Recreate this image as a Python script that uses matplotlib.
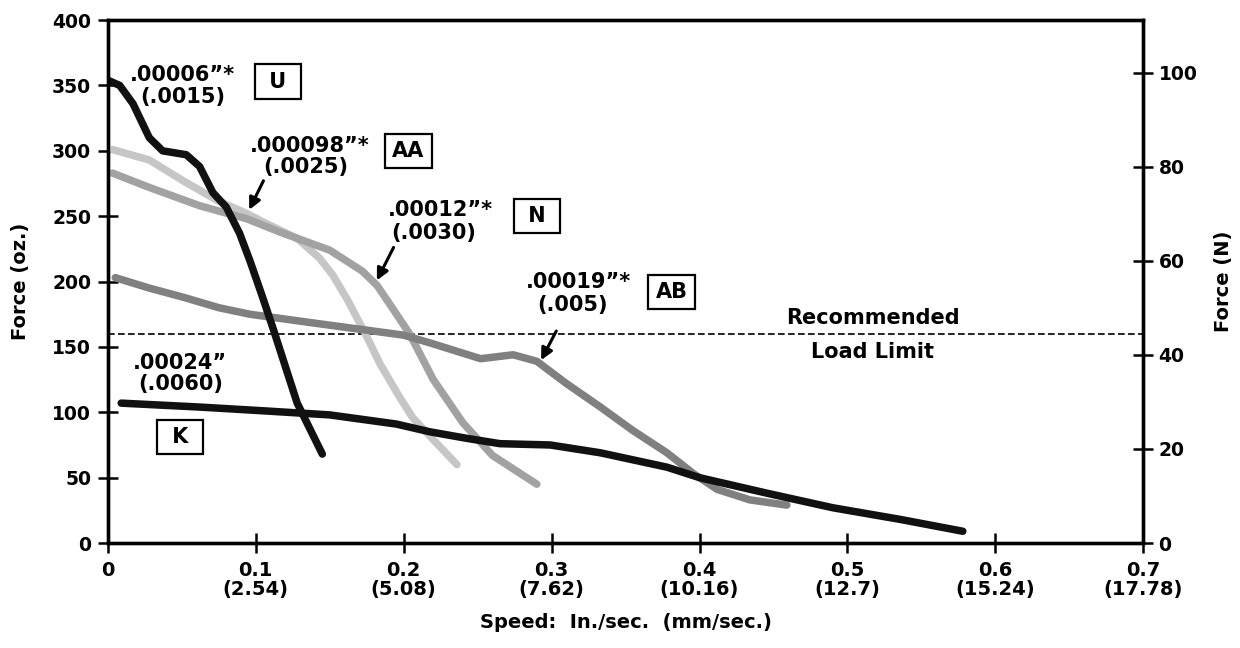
import matplotlib
matplotlib.use("Agg")
import matplotlib.pyplot as plt

# ---------------- data ----------------
u_x = [0.0, 0.008, 0.017, 0.028, 0.037, 0.053, 0.062, 0.071, 0.080, 0.089, 0.096, 0.104, 0.112, 0.128, 0.145]
u_y = [354, 350, 336, 310, 300, 297, 288, 268, 257, 237, 216, 190, 163, 107, 68]

aa_x = [0.003, 0.028, 0.051, 0.074, 0.094, 0.106, 0.128, 0.143, 0.152, 0.162, 0.175, 0.184, 0.197, 0.206, 0.22, 0.236]
aa_y = [301, 293, 277, 262, 252, 245, 233, 218, 205, 186, 158, 137, 112, 96, 79, 60]

n_x = [0.003, 0.028, 0.062, 0.094, 0.116, 0.150, 0.172, 0.182, 0.191, 0.204, 0.22, 0.24, 0.26, 0.29]
n_y = [283, 272, 258, 248, 238, 224, 208, 197, 182, 160, 125, 92, 67, 45]

ab_x = [0.005, 0.028, 0.051, 0.075, 0.096, 0.141, 0.2, 0.218, 0.252, 0.274, 0.29, 0.31, 0.333, 0.355, 0.378, 0.396, 0.412, 0.434, 0.459]
ab_y = [203, 195, 188, 180, 175, 168, 159, 153, 141, 144, 139, 122, 104, 86, 69, 53, 41, 33, 29]

k_x = [0.009, 0.062, 0.107, 0.150, 0.195, 0.218, 0.243, 0.265, 0.299, 0.333, 0.378, 0.4, 0.446, 0.49, 0.536, 0.578]
k_y = [107, 104, 101, 98, 91, 85, 80, 76, 75, 69, 58, 50, 38, 27, 18, 9]

load_limit = 160

x_ticks = [0, 0.1, 0.2, 0.3, 0.4, 0.5, 0.6, 0.7]
x_ticklabels = ["0", "0.1\n(2.54)", "0.2\n(5.08)", "0.3\n(7.62)", "0.4\n(10.16)",
                "0.5\n(12.7)", "0.6\n(15.24)", "0.7\n(17.78)"]
y_ticks = [0, 50, 100, 150, 200, 250, 300, 350, 400]
yr_ticks = [0, 20, 40, 60, 80, 100]
OZ_PER_N = 3.597

# ---------------- figure ----------------
plt.rcParams['font.family'] = ['DejaVu Sans']
plt.rcParams['font.weight'] = 'bold'

fig = plt.figure(figsize=(12.4, 6.48), dpi=100)
ax = fig.add_axes([0.087, 0.162, 0.835, 0.807])

lw = 5.4
common = dict(lw=lw, solid_capstyle='round', solid_joinstyle='round')
ax.plot(aa_x, aa_y, color='#c6c6c6', zorder=3, **common)
ax.plot(n_x, n_y, color='#a2a2a2', zorder=3, **common)
ax.plot(ab_x, ab_y, color='#808080', zorder=3, **common)
ax.plot(u_x, u_y, color='#111111', zorder=4, **common)
ax.plot(k_x, k_y, color='#111111', zorder=4, **common)

ax.axhline(load_limit, color='black', lw=1.2, ls=(0, (4, 2)), zorder=2)

ax.set_xlim(0, 0.7)
ax.set_ylim(0, 400)
ax.set_xticks(x_ticks)
ax.set_xticklabels(x_ticklabels, fontsize=14, fontweight='bold', linespacing=1.0)
ax.set_yticks(y_ticks)
ax.set_yticklabels([str(v) for v in y_ticks], fontsize=13.5, fontweight='bold')
for s in ax.spines.values():
    s.set_linewidth(2.4)
ax.tick_params(axis='both', direction='inout', length=14, width=1.8)
ax.tick_params(axis='x', pad=6)
ax.tick_params(axis='y', pad=5)
ax.set_xlabel("Speed:  In./sec.  (mm/sec.)", fontsize=14, fontweight='bold', labelpad=10)
ax.set_ylabel("Force (oz.)", fontsize=14, fontweight='bold', labelpad=16)

ax2 = ax.twinx()
ax2.set_ylim(0, 400 / OZ_PER_N)
ax2.set_yticks(yr_ticks)
ax2.set_yticklabels([str(v) for v in yr_ticks], fontsize=13.5, fontweight='bold')
ax2.tick_params(axis='y', direction='inout', length=14, width=1.8, pad=4)
for s in ax2.spines.values():
    s.set_linewidth(2.4)
ax2.set_ylabel("Force (N)", fontsize=14, fontweight='bold', labelpad=12)

# ---------------- annotations ----------------
tfs = 15
box = dict(boxstyle='square,pad=0.35', fc='white', ec='black', lw=1.6)

def label(x, y, s, **kw):
    ax.text(x, y, s, fontsize=tfs, fontweight='bold', ha='center', va='center', zorder=6, **kw)

label(0.0507, 358, ".00006\u201d*")
label(0.0507, 341, "(.0015)")
label(0.115, 353, " U ", bbox=box)

label(0.1366, 304, ".000098\u201d*")
label(0.134, 288, "(.0025)")
label(0.203, 300, "AA", bbox=box)

label(0.225, 255, ".00012\u201d*")
label(0.220, 237, "(.0030)")
label(0.290, 250, " N ", bbox=box)

label(0.318, 200, ".00019\u201d*")
label(0.314, 182, "(.005)")
label(0.381, 192, "AB", bbox=box)

label(0.049, 138, ".00024\u201d")
label(0.049, 122, "(.0060)")
label(0.0487, 81, " K ", bbox=box)

label(0.517, 172, "Recommended")
label(0.517, 146, "Load Limit")

arrowprops = dict(arrowstyle='-|>,head_length=0.7,head_width=0.35', color='black', lw=2.2)
ax.annotate("", xy=(0.0947, 253), xytext=(0.106, 279), arrowprops=arrowprops, zorder=7)
ax.annotate("", xy=(0.181, 199), xytext=(0.194, 228), arrowprops=arrowprops, zorder=7)
ax.annotate("", xy=(0.292, 138), xytext=(0.304, 164), arrowprops=arrowprops, zorder=7)

fig.savefig("out.png", dpi=100)
